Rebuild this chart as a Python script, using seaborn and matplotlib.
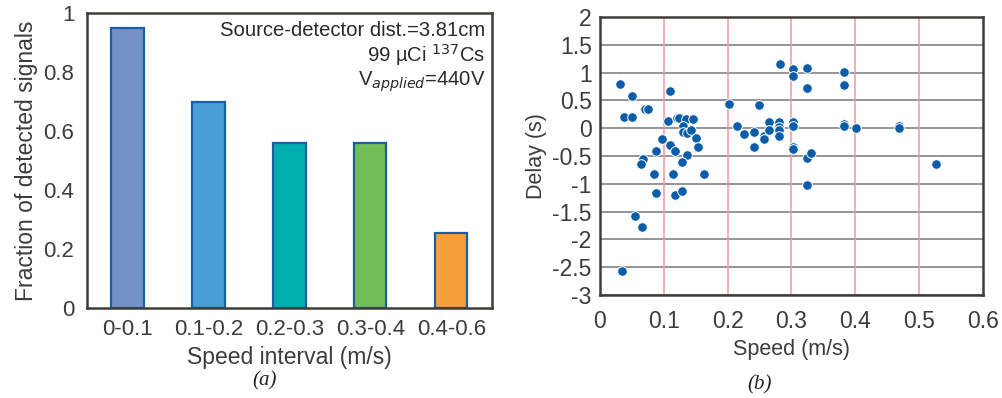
import matplotlib
matplotlib.use("Agg")
import matplotlib.pyplot as plt
import seaborn as sns
import pandas as pd
import numpy as np

sns.set_style("white")
plt.rcParams['font.family'] = ['Liberation Sans', 'DejaVu Sans']

# ---- data ----
categories = ["0-0.1", "0.1-0.2", "0.2-0.3", "0.3-0.4", "0.4-0.6"]
fractions = [0.95, 0.70, 0.56, 0.56, 0.255]
bar_colors = ["#7492C8", "#489FD7", "#00AEB0", "#72BF5A", "#F5A03A"]

speed = [0.032, 0.037, 0.050, 0.050, 0.071, 0.075, 0.110, 0.107, 0.120, 0.124,
         0.135, 0.146, 0.130, 0.130, 0.137, 0.143, 0.151, 0.097, 0.109, 0.087,
         0.117, 0.153, 0.067, 0.065, 0.137, 0.129, 0.084, 0.114, 0.163, 0.087,
         0.117, 0.129, 0.055, 0.066, 0.034,
         0.202, 0.249, 0.215, 0.226, 0.241, 0.241, 0.257, 0.257, 0.264, 0.265,
         0.281, 0.281, 0.281, 0.281, 0.282, 0.302, 0.302, 0.302, 0.302, 0.302,
         0.302, 0.324, 0.324, 0.324, 0.330, 0.324, 0.383, 0.383, 0.383, 0.383,
         0.401, 0.468, 0.468, 0.527]
delay = [0.80, 0.20, 0.58, 0.20, 0.34, 0.34, 0.67, 0.13, 0.19, 0.18,
         0.16, 0.16, 0.04, -0.07, -0.08, -0.04, -0.17, -0.19, -0.30, -0.41,
         -0.41, -0.34, -0.56, -0.64, -0.49, -0.60, -0.83, -0.83, -0.83, -1.16,
         -1.20, -1.13, -1.58, -1.77, -2.57,
         0.44, 0.41, 0.04, -0.10, -0.07, -0.34, -0.14, -0.19, 0.11, -0.04,
         0.11, 0.02, -0.04, -0.14, 1.16, 1.07, 0.94, 0.12, 0.04, -0.34,
         -0.38, 1.09, 0.73, -0.53, -0.45, -1.03, 1.01, 0.77, 0.07, 0.04,
         0.0, 0.04, 0.0, -0.64]

x_ticks_b = [0, 0.1, 0.2, 0.3, 0.4, 0.5, 0.6]
y_ticks_b = [2, 1.5, 1, 0.5, 0, -0.5, -1, -1.5, -2, -2.5, -3]
y_ticks_a = [0, 0.2, 0.4, 0.6, 0.8, 1]

text_c = "#3c3c3c"
spine_c = "#3d3d38"

fig = plt.figure(figsize=(10.02, 3.98), dpi=100)
ax1 = fig.add_axes([0.0868, 0.2254, 0.4039, 0.7412])
ax2 = fig.add_axes([0.5988, 0.2588, 0.3822, 0.6985])

# ---- panel a ----
dfa = pd.DataFrame({"cat": categories, "frac": fractions})
sns.barplot(data=dfa, x="cat", y="frac", hue="cat", palette=bar_colors,
            legend=False, width=0.4, edgecolor="#1A5EA8", linewidth=1.6,
            saturation=1, ax=ax1)
ax1.set_ylim(0, 1)
ax1.set_xlim(-0.5, 4.5)
ax1.set_yticks(y_ticks_a)
ax1.set_yticklabels([f"{v:g}" for v in y_ticks_a])
ax1.set_xticks(range(5))
ax1.set_xticklabels(categories)
ax1.set_xticks(np.arange(-0.5, 5, 1), minor=True)
ax1.tick_params(axis="x", which="major", length=0, labelsize=16, colors=text_c, pad=8)
ax1.tick_params(axis="x", which="minor", length=6, width=1.5, color=spine_c, direction="out")
ax1.tick_params(axis="y", length=6, width=1.5, color=spine_c, labelsize=16,
                labelcolor=text_c, direction="out", pad=3)
ax1.set_xlabel("Speed interval (m/s)", fontsize=16.5, color=text_c, labelpad=4)
ax1.set_ylabel("Fraction of detected signals", fontsize=16.5, color=text_c, labelpad=4)
for s in ax1.spines.values():
    s.set_color(spine_c)
    s.set_linewidth(1.8)
ax1.text(0.985, 0.975, "Source-detector dist.=3.81cm\n99 \u00b5Ci $^{137}$Cs\nV$_{\\mathit{applied}}$=440V",
         transform=ax1.transAxes, ha="right", va="top", fontsize=14.6,
         color="#2a2a2a", linespacing=1.1)

# ---- panel b ----
dfb = pd.DataFrame({"speed": speed, "delay": delay})
for yv in y_ticks_b:
    ax2.axhline(yv, color="#8c8c8c", lw=1.3, zorder=0)
for xv in x_ticks_b[1:-1]:
    ax2.axvline(xv, color="#F4949E", lw=1.1, zorder=0.5)
sns.scatterplot(data=dfb, x="speed", y="delay", color="#0B5DA8", s=48,
                edgecolor="white", linewidth=0.7, ax=ax2, zorder=3)
ax2.set_xlim(0, 0.6)
ax2.set_ylim(-3, 2)
ax2.set_xticks(x_ticks_b)
ax2.set_xticklabels([f"{v:g}" for v in x_ticks_b])
ax2.set_yticks(y_ticks_b)
ax2.set_yticklabels([f"{v:g}" for v in y_ticks_b])
ax2.tick_params(axis="x", length=6, width=1.5, color=spine_c, labelsize=16.5,
                labelcolor=text_c, direction="out", pad=5)
ax2.tick_params(axis="y", length=6, width=1.5, color=spine_c, labelsize=16.5,
                labelcolor=text_c, direction="inout", pad=3)
ax2.set_xlabel("Speed (m/s)", fontsize=15.5, color=text_c, labelpad=4)
ax2.set_ylabel("Delay (s)", fontsize=15.5, color=text_c, labelpad=4)
for s in ax2.spines.values():
    s.set_color(spine_c)
    s.set_linewidth(1.8)

# captions
fig.text(265 / 1002, 1 - 381 / 398, "(a)", fontsize=15, family="Liberation Serif",
         style="italic", ha="center", va="center", color="#222222")
fig.text(760 / 1002, 1 - 385 / 398, "(b)", fontsize=15, family="Liberation Serif",
         style="italic", ha="center", va="center", color="#222222")

fig.savefig("out.png", dpi=100)
